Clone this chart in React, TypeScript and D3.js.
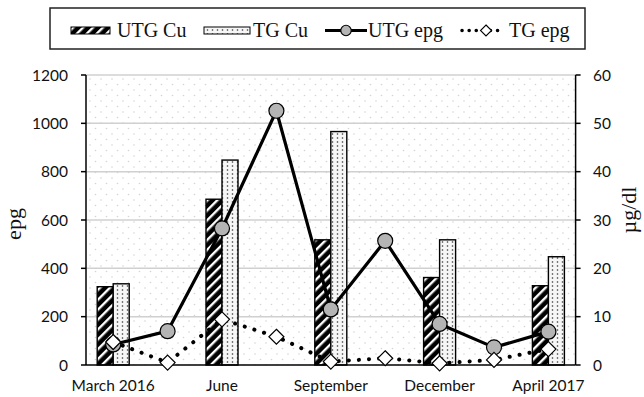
import React from "react";
import * as d3 from "d3";

const categories = ["March 2016", "", "June", "", "September", "", "December", "", "April 2017"];
const utgCu: (number | null)[] = [16.2, null, 34.3, null, 25.9, null, 18.1, null, 16.4];
const tgCu: (number | null)[] = [16.8, null, 42.4, null, 48.3, null, 25.9, null, 22.4];
const utgEpg = [85, 140, 565, 1052, 230, 514, 170, 73, 138];
const tgEpg = [95, 10, 189, 117, 14, 28, 7, 21, 66];
const leftTicks = [0, 200, 400, 600, 800, 1000, 1200];
const rightTicks = [0, 10, 20, 30, 40, 50, 60];
const legendLabels = ["UTG Cu", "TG Cu", "UTG epg", "TG epg"];
const leftTitle = "epg";
const rightTitle = "µg/dl";

const W = 644;
const H = 397;
const PL = 86;
const PR = 575.6;
const PT = 75;
const PB = 365;

const tickFont = "Lato, 'Open Sans', sans-serif";
const serif = "'Liberation Serif', 'Times New Roman', serif";

export default function App() {
  const idx = categories.map((_, i) => i);
  const x = d3.scaleBand<number>().domain(idx).range([PL, PR]);
  const cx = (i: number) => (x(i) as number) + x.bandwidth() / 2;
  const yL = d3.scaleLinear().domain([0, 1200]).range([PB, PT]);
  const yR = d3.scaleLinear().domain([0, 60]).range([PB, PT]);
  const barW = 16;

  const line = d3
    .line<number>()
    .x((_, i) => cx(i))
    .y((d) => yL(d));

  const diamond = (px: number, py: number, r: number) =>
    `M${px},${py - r}L${px + r},${py}L${px},${py + r}L${px - r},${py}Z`;

  return (
    <svg
      width={W}
      height={H}
      style={{ position: "absolute", left: 0, top: 0, background: "#fff" }}
    >
      <defs>
        <pattern id="bgdots" width="11" height="11" patternUnits="userSpaceOnUse">
          <rect width="11" height="11" fill="#ffffff" />
          <circle cx="2" cy="2" r="0.8" fill="#d4d4d4" />
          <circle cx="7.5" cy="7.5" r="0.8" fill="#d4d4d4" />
        </pattern>
        <pattern
          id="hatch"
          width="7"
          height="7"
          patternUnits="userSpaceOnUse"
          patternTransform="rotate(45)"
        >
          <rect width="7" height="7" fill="#000" />
          <rect x="0" width="2.4" height="7" fill="#fff" />
        </pattern>
        <pattern id="dots" width="5" height="4" patternUnits="userSpaceOnUse">
          <rect width="5" height="4" fill="#f6f6f6" />
          <circle cx="2.5" cy="2" r="0.8" fill="#333" />
        </pattern>
      </defs>

      {/* plot background */}
      <rect x={PL} y={PT} width={PR - PL} height={PB - PT} fill="url(#bgdots)" />

      {/* gridlines */}
      {leftTicks
        .filter((t) => t > 0)
        .map((t) => (
          <line key={"g" + t} x1={PL} x2={PR} y1={yL(t)} y2={yL(t)} stroke="#d0d0d0" strokeWidth={1.5} />
        ))}

      {/* bars */}
      {idx.map((i) =>
        utgCu[i] == null ? null : (
          <rect
            key={"u" + i}
            x={cx(i) - barW}
            y={yR(utgCu[i] as number)}
            width={barW}
            height={PB - yR(utgCu[i] as number)}
            fill="url(#hatch)"
            stroke="#000"
            strokeWidth={1.4}
          />
        )
      )}
      {idx.map((i) =>
        tgCu[i] == null ? null : (
          <rect
            key={"t" + i}
            x={cx(i)}
            y={yR(tgCu[i] as number)}
            width={barW}
            height={PB - yR(tgCu[i] as number)}
            fill="url(#dots)"
            stroke="#000"
            strokeWidth={1.4}
          />
        )
      )}

      {/* axes */}
      <line x1={PL} x2={PL} y1={PT} y2={PB} stroke="#000" strokeWidth={1.5} />
      <line x1={PR} x2={PR} y1={PT} y2={PB} stroke="#000" strokeWidth={1.5} />
      <line x1={PL} x2={PR} y1={PB} y2={PB} stroke="#000" strokeWidth={1.5} />
      {leftTicks.map((t) => (
        <g key={"lt" + t}>
          <line x1={PL - 5} x2={PL} y1={yL(t)} y2={yL(t)} stroke="#000" strokeWidth={1.5} />
          <text
            x={68}
            y={yL(t)}
            dy="0.36em"
            textAnchor="end"
            fontFamily={tickFont}
            fontSize={15.5}
            fill="#111"
          >
            {t}
          </text>
        </g>
      ))}
      {rightTicks.map((t) => (
        <g key={"rt" + t}>
          <line x1={PR} x2={PR + 5} y1={yR(t)} y2={yR(t)} stroke="#000" strokeWidth={1.5} />
          <text
            x={593}
            y={yR(t)}
            dy="0.36em"
            textAnchor="start"
            fontFamily={tickFont}
            fontSize={15.5}
            fill="#111"
          >
            {t}
          </text>
        </g>
      ))}
      {categories.map((c, i) =>
        c ? (
          <text
            key={"c" + i}
            x={cx(i)}
            y={391}
            textAnchor="middle"
            fontFamily={tickFont}
            fontSize={15.5}
            fill="#111"
          >
            {c}
          </text>
        ) : null
      )}

      {/* axis titles */}
      <text
        transform={`translate(21,224) rotate(-90)`}
        textAnchor="middle"
        fontFamily={serif}
        fontSize={22}
        fill="#111"
      >
        {leftTitle}
      </text>
      <text
        transform={`translate(636,210) rotate(-90)`}
        textAnchor="middle"
        fontFamily={serif}
        fontSize={22}
        fill="#111"
      >
        {rightTitle}
      </text>

      {/* UTG epg line */}
      <path d={line(utgEpg) as string} fill="none" stroke="#000" strokeWidth={3.2} strokeLinejoin="round" />
      {utgEpg.map((v, i) => (
        <circle key={"uc" + i} cx={cx(i)} cy={yL(v)} r={7.5} fill="#b4b4b4" stroke="#000" strokeWidth={1.2} />
      ))}

      {/* TG epg dotted line */}
      <path
        d={line(tgEpg) as string}
        fill="none"
        stroke="#000"
        strokeWidth={4}
        strokeLinecap="round"
        strokeDasharray="0.1 10"
      />
      {tgEpg.map((v, i) => (
        <path key={"td" + i} d={diamond(cx(i), yL(v), 7.5)} fill="#fff" stroke="#000" strokeWidth={1.2} />
      ))}

      {/* legend */}
      <rect x={50} y={8} width={535} height={41} fill="#fff" stroke="#222" strokeWidth={1.5} />
      <rect x={71} y={27} width={39} height={7} fill="url(#hatch)" stroke="#000" strokeWidth={1} />
      <text x={117} y={37} fontFamily={serif} fontSize={20} fill="#111">
        {legendLabels[0]}
      </text>
      <rect x={204} y={27} width={46} height={7} fill="url(#dots)" stroke="#000" strokeWidth={1} />
      <text x={253} y={37} fontFamily={serif} fontSize={20} fill="#111">
        {legendLabels[1]}
      </text>
      <line x1={325} x2={367} y1={30.5} y2={30.5} stroke="#000" strokeWidth={3.2} />
      <circle cx={346} cy={30.5} r={5.2} fill="#b4b4b4" stroke="#000" strokeWidth={1.1} />
      <text x={368} y={37} fontFamily={serif} fontSize={20} fill="#111">
        {legendLabels[2]}
      </text>
      <line
        x1={462}
        x2={504}
        y1={30.5}
        y2={30.5}
        stroke="#000"
        strokeWidth={3.5}
        strokeLinecap="round"
        strokeDasharray="0.1 7"
      />
      <path d={diamond(486, 30.5, 5.5)} fill="#fff" stroke="#000" strokeWidth={1.1} />
      <text x={509} y={37} fontFamily={serif} fontSize={20} fill="#111">
        {legendLabels[3]}
      </text>
    </svg>
  );
}
